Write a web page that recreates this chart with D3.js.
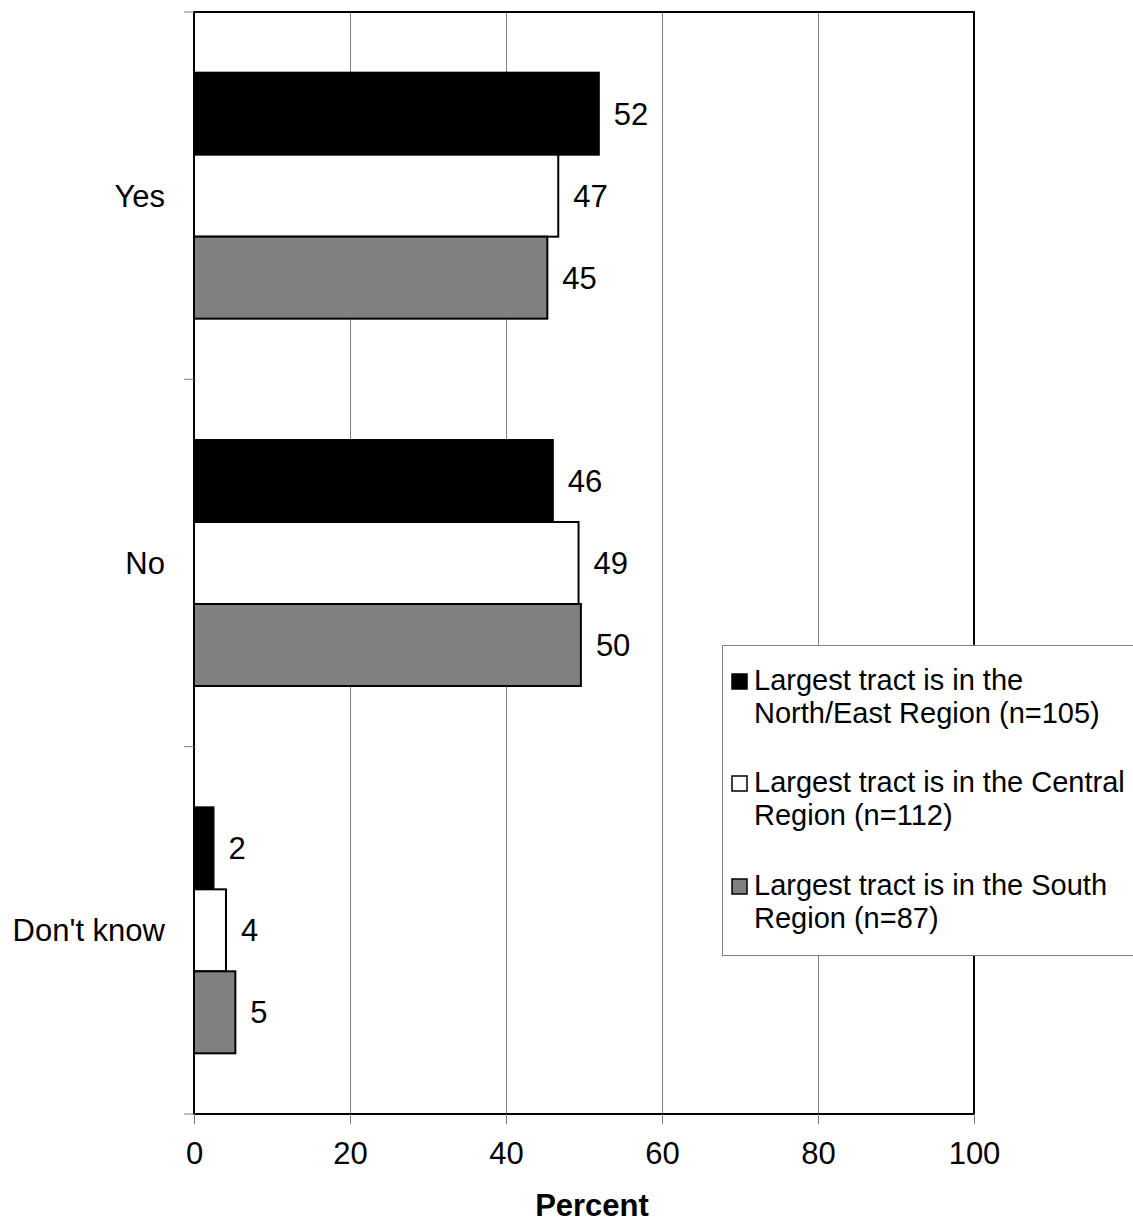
<!DOCTYPE html>
<html><head><meta charset="utf-8">
<script src="https://cdn.jsdelivr.net/npm/d3@7"></script>
<style>body{margin:0;background:#fff}svg{display:block}text{font-family:"Liberation Sans",Arial,sans-serif;fill:#000}</style>
</head><body><svg id="c" width="1133" height="1222"></svg>
<script>
const categories = ["Yes", "No", "Don't know"];
const seriesNames = [
  ["Largest tract is in the", "North/East Region (n=105)"],
  ["Largest tract is in the Central", "Region (n=112)"],
  ["Largest tract is in the South", "Region (n=87)"]
];
const seriesColors = ["#000000", "#ffffff", "#808080"];
const northEast = [51.9, 46.0, 2.5];
const central = [46.7, 49.3, 4.1];
const south = [45.3, 49.6, 5.3];
const valueLabels = [[52, 46, 2], [47, 49, 4], [45, 50, 5]];
const xTicks = [0, 20, 40, 60, 80, 100];

const series = [northEast, central, south];
const svg = d3.select("#c");
const L = 194, R = 974, T = 12, B = 1114;
const x = d3.scaleLinear().domain([0, 100]).range([L, R]);
const y = d3.scaleBand().domain(categories).range([T, B]).paddingInner(0).paddingOuter(0);
const inner = d3.scaleBand().domain([0,1,2]).range([0, y.bandwidth()]).paddingInner(0).paddingOuter(0.74);

// gridlines
svg.append("g").selectAll("line").data(xTicks.slice(1, -1)).join("line")
  .attr("x1", d => Math.round(x(d)) + 0.5).attr("x2", d => Math.round(x(d)) + 0.5).attr("y1", T).attr("y2", B)
  .attr("stroke", "#808080").attr("stroke-width", 1);

// bars
categories.forEach((c, ci) => {
  series.forEach((s, si) => {
    const y0 = y(c) + inner(si);
    svg.append("rect")
      .attr("x", x(0)).attr("y", y0)
      .attr("width", x(s[ci]) - x(0)).attr("height", inner.bandwidth())
      .attr("fill", seriesColors[si]).attr("stroke", "#000").attr("stroke-width", 2);
    svg.append("text")
      .attr("x", x(s[ci]) + 15).attr("y", y0 + inner.bandwidth()/2)
      .attr("dy", "0.35em").attr("font-size", 31)
      .text(valueLabels[si][ci]);
  });
});

// frame
svg.append("rect").attr("x", L).attr("y", T).attr("width", R - L).attr("height", B - T)
  .attr("fill", "none").attr("stroke", "#000").attr("stroke-width", 2);

// x axis
const xAxis = d3.axisBottom(x).tickValues(xTicks).tickSize(10).tickPadding(14);
const gx = svg.append("g").attr("transform", `translate(0,${B})`).call(xAxis);
gx.select(".domain").remove();
gx.selectAll(".tick line").attr("stroke", "#808080");
gx.selectAll(".tick text").attr("font-size", 31).attr("font-family", "Liberation Sans, Arial, sans-serif")
  .attr("fill", "#000").attr("y", 50).attr("dy", null);

// y axis
const yTickPos = [T, ...categories.map(c => y(c) + y.bandwidth())];
svg.append("g").selectAll("line").data(yTickPos).join("line")
  .attr("x1", L - 10).attr("x2", L).attr("y1", d => d).attr("y2", d => d)
  .attr("stroke", "#808080");
svg.append("g").selectAll("text").data(categories).join("text")
  .attr("x", 165).attr("y", d => y(d) + y.bandwidth()/2)
  .attr("dy", "0.35em").attr("text-anchor", "end").attr("font-size", 31).text(d => d);

// x title
svg.append("text").attr("x", 592).attr("y", 1216).attr("text-anchor", "middle")
  .attr("font-size", 31).attr("font-weight", "bold").text("Percent");

// legend
const lg = svg.append("g");
lg.append("rect").attr("x", 722.5).attr("y", 645.5).attr("width", 440).attr("height", 310)
  .attr("fill", "#fff").attr("stroke", "#808080").attr("stroke-width", 1);
const legY = [690, 792, 895];
seriesNames.forEach((lines, i) => {
  lg.append("rect").attr("x", 732).attr("y", legY[i] - 16).attr("width", 15).attr("height", 15)
    .attr("fill", seriesColors[i]).attr("stroke", "#000").attr("stroke-width", 1.5);
  lines.forEach((t, j) => {
    lg.append("text").attr("x", 754).attr("y", legY[i] + j * 33).attr("font-size", 29).text(t);
  });
});
</script></body></html>
